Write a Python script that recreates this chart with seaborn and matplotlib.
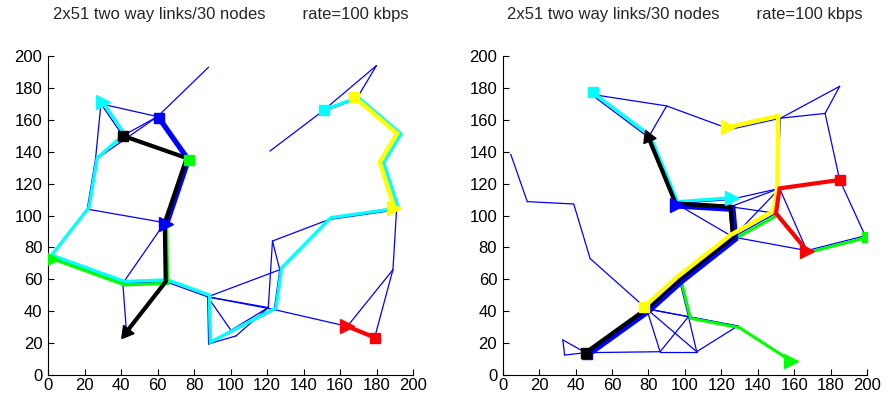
import numpy as np
import pandas as pd
import matplotlib
matplotlib.use("Agg")
import matplotlib.pyplot as plt
import matplotlib.transforms as mtransforms
import seaborn as sns

sns.set_theme(style="ticks")
plt.rcParams["font.family"] = ["Liberation Sans", "DejaVu Sans"]

TITLE = "2x51 two way links/30 nodes        rate=100 kbps"
TICKS = [0, 20, 40, 60, 80, 100, 120, 140, 160, 180, 200]

# ---------------- left network ----------------
left_names = ["n1", "A", "B", "C", "D", "E", "F", "G", "H", "I", "J", "K", "L", "M", "N",
              "O", "P", "Q", "R", "S", "T", "U", "V", "W", "X", "Y", "Z", "AA", "AB", "AC", "AD"]
left_x = [88, 60, 29, 41, 76, 26, 21.5, 64, 1, 41, 64.5, 43, 87.5, 88, 103,
          100.5, 120.7, 124, 123, 127, 154, 191, 189, 179, 164, 180, 150, 169, 192.5, 183, 121.6]
left_y = [193, 162, 170, 150, 136, 135, 104, 95.5, 74, 57.5, 58.5, 27, 49, 19.5, 24.5,
          27.6, 42.3, 41, 84, 66, 97.5, 103.5, 66, 23.5, 30.5, 194, 165, 173, 150, 132, 140.4]
left_links = [("n1", "A"), ("A", "B"), ("B", "C"), ("C", "A"), ("E", "A"), ("B", "E"),
              ("E", "C"), ("C", "D"), ("A", "D"), ("E", "F"), ("F", "G"), ("F", "H"),
              ("D", "G"), ("G", "I"), ("H", "I"), ("I", "J"), ("G", "J"), ("I", "K"),
              ("J", "K"), ("J", "L"), ("L", "M"), ("L", "O"), ("L", "P"), ("L", "Q"),
              ("L", "S"), ("M", "N"), ("M", "Q"), ("M", "P"), ("N", "P"), ("O", "Q"),
              ("R", "P"), ("R", "S"), ("R", "T"), ("S", "Q"), ("S", "T"), ("T", "U"),
              ("U", "V"), ("V", "X"), ("V", "W"), ("W", "X"), ("Q", "X"), ("U", "AC"),
              ("AC", "AB"), ("AB", "AA"), ("AA", "Z"), ("AA", "Y"), ("Y", "Z"), ("Z", "AD")]
left_routes = {
    "cyan": ["Z", "AA", "AB", "AC", "U", "T", "S", "Q", "M", "L", "J", "I", "H", "F", "E", "C", "B"],
    "#00ff00": ["D", "G", "J", "I", "H"],
    "blue": ["A", "D", "G"],
    "black": ["C", "D", "G", "J", "K"],
    "yellow": ["AA", "AB", "AC", "U"],
    "red": ["W", "X"],
}

# ---------------- right network ----------------
right_names = ["a", "b", "c", "d", "e", "f", "g", "h", "i", "j", "l", "m", "n", "o", "p",
               "q", "r", "s", "t", "u", "v", "w", "x", "y", "z", "A2", "B2", "C2", "D2", "E2"]
right_x = [4.4, 13.5, 39, 48, 79, 48.5, 90, 80, 125, 152.5, 177, 185, 185, 199, 152,
           150, 167, 124.8, 95, 125, 126.5, 97, 102, 129, 157, 45.5, 86.4, 106.5, 33, 34]
right_y = [138.4, 108.7, 107.2, 73, 41.5, 176, 168.7, 149, 154, 161, 164, 181, 122.3, 87.3, 117,
           101.4, 78, 110, 107.5, 105.5, 86.5, 60, 36.6, 30.7, 10, 14, 14.6, 14.6, 22, 12.5]
right_links = [("a", "b"), ("b", "c"), ("c", "d"), ("d", "e"), ("f", "g"), ("f", "h"),
               ("g", "h"), ("g", "i"), ("i", "j"), ("j", "l"), ("j", "m"), ("l", "m"),
               ("l", "n"), ("n", "o"), ("n", "p"), ("p", "q"), ("q", "r"), ("r", "o"),
               ("r", "v"), ("p", "v"), ("p", "r"), ("s", "p"), ("u", "p"), ("u", "q"),
               ("t", "v"), ("t", "h"), ("t", "s"), ("u", "v"), ("t", "u"), ("v", "w"),
               ("w", "e"), ("w", "x"), ("e", "B2"), ("e", "C2"), ("e", "x"), ("e", "y"),
               ("x", "B2"), ("x", "C2"), ("B2", "C2"), ("A2", "B2"), ("A2", "D2"),
               ("A2", "E2"), ("D2", "E2"), ("C2", "y"), ("y", "z"), ("e", "A2"),
               ("q", "j"), ("x", "y"), ("v", "q")]
right_routes = {
    "cyan": ["f", "h", "t", "s"],
    "#00ff00": ["o", "r", "q", "v", "w", "x", "y", "z"],
    "blue": ["A2", "e", "w", "v", "u", "t"],
    "black": ["A2", "e", "w", "v", "u", "t", "h"],
    "yellow": ["e", "w", "v", "q", "p", "j", "i"],
    "red": ["n", "p", "q", "r"],
}

# line width (points), sideways shift (points) and end-marker style of each route
ROUTE_STYLE = {
    "cyan": dict(lw=2.4, dx=1.3, dy=1.3, head=">"),
    "#00ff00": dict(lw=2.2, dx=1.4, dy=-1.2, head=">"),
    "blue": dict(lw=3.8, dx=1.2, dy=-1.2, head=">"),
    "black": dict(lw=3.0, dx=0.0, dy=0.0, head="along"),
    "yellow": dict(lw=3.2, dx=-1.6, dy=1.6, head=">"),
    "red": dict(lw=3.0, dx=0.0, dy=0.0, head=">"),
}

fig = plt.figure(figsize=(8.93, 4.0), dpi=100)
ax_left = fig.add_axes([48 / 893, 25 / 400, 365 / 893, 319 / 400])
ax_right = fig.add_axes([502.7 / 893, 25 / 400, 364.3 / 893, 319 / 400])


def draw_network(ax, names, xs, ys, links, routes, blue_lw):
    pos = {n: (x, y) for n, x, y in zip(names, xs, ys)}
    rows = []
    for k, (u, v) in enumerate(links):
        for node in (u, v):
            rows.append({"link": k, "x": pos[node][0], "y": pos[node][1]})
    df = pd.DataFrame(rows)
    ax.set_xlim(0, 200)
    ax.set_ylim(0, 200)
    sns.lineplot(data=df, x="x", y="y", units="link", estimator=None, sort=False,
                 color="#0000ff", lw=0.9, ax=ax, zorder=2)

    for order, (color, path) in enumerate(routes.items()):
        st = ROUTE_STYLE[color]
        lw = blue_lw if color == "blue" else st["lw"]
        tr = mtransforms.offset_copy(ax.transData, fig=fig, x=st["dx"], y=st["dy"], units="points")
        px = [pos[n][0] for n in path]
        py = [pos[n][1] for n in path]
        ax.plot(px, py, color=color, lw=lw, solid_joinstyle="miter", solid_capstyle="butt",
                transform=tr, zorder=3 + order)
        # start marker
        ax.plot(px[0], py[0], marker="s", ms=7, color=color, mec=color,
                transform=tr, zorder=10 + order)
        # end marker
        if st["head"] == "along":
            p0 = ax.transData.transform((px[-2], py[-2]))
            p1 = ax.transData.transform((px[-1], py[-1]))
            ang = np.degrees(np.arctan2(p1[1] - p0[1], p1[0] - p0[0]))
            head = (3, 0, ang - 90)
            ms = 11
        else:
            head = st["head"]
            ms = 10
        ax.plot(px[-1], py[-1], marker=head, ms=ms, color=color, mec=color,
                transform=tr, zorder=10 + order)

    ax.set_xlim(0, 200)
    ax.set_ylim(0, 200)
    ax.set_xticks(TICKS)
    ax.set_yticks(TICKS)
    ax.set_xlabel("")
    ax.set_ylabel("")
    ax.tick_params(direction="in", length=4, width=0.8, labelsize=12, colors="black")
    ax.tick_params(axis="x", pad=2)
    ax.tick_params(axis="y", pad=4)
    for sp in ("left", "bottom"):
        ax.spines[sp].set_linewidth(0.8)
        ax.spines[sp].set_color("black")
    sns.despine(ax=ax)
    ax.set_title(TITLE, fontsize=12, pad=27)


draw_network(ax_left, left_names, left_x, left_y, left_links, left_routes, blue_lw=3.8)
draw_network(ax_right, right_names, right_x, right_y, right_links, right_routes, blue_lw=5.0)

fig.savefig("out.png", dpi=100)
